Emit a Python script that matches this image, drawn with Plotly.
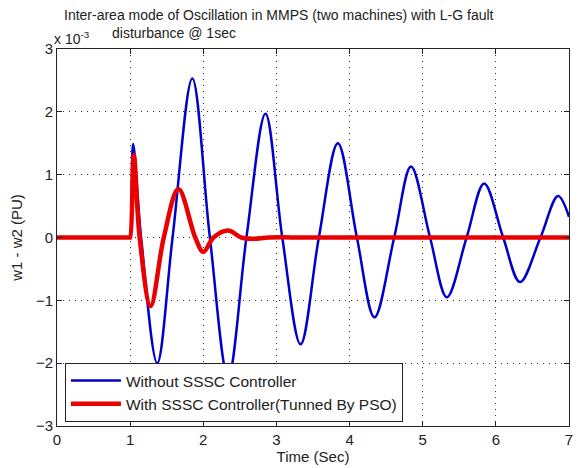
import plotly.graph_objects as go

# ---- data (values in units of 1e-3 PU) ----
t_without = [0, 0.99, 1.0, 1.04, 1.15, 1.37, 1.58, 1.85, 2.09, 2.34, 2.59, 2.85,
             3.08, 3.33, 3.58, 3.84, 4.10, 4.34, 4.61, 4.84, 5.10, 5.33, 5.60,
             5.84, 6.10, 6.33, 6.61, 6.85, 7.0]
v_without = [0, 0, 0, 1.49, 0, -2.0, 0, 2.53, 0, -2.22, 0, 1.97,
             0, -1.70, 0, 1.50, 0, -1.27, 0, 1.13, 0, -0.95, 0,
             0.86, 0, -0.71, 0, 0.66, 0.33]

t_with = [0, 0.99, 1.0, 1.05, 1.13, 1.28, 1.46, 1.66, 1.89, 2.0, 2.14, 2.34,
          2.52, 2.68, 2.9, 3.5, 7.0]
v_with = [0, 0, 0, 1.31, 0, -1.09, 0, 0.77, 0, -0.23, 0, 0.11,
          0, -0.02, 0, 0, 0]

x_ticks = [0, 1, 2, 3, 4, 5, 6, 7]
y_ticks = [-3, -2, -1, 0, 1, 2, 3]

title_line1 = "Inter-area mode of Oscillation in MMPS (two machines) with L-G fault"
title_line2 = "disturbance @ 1sec"
name_without = "Without SSSC Controller"
name_with = "With SSSC Controller(Tunned By PSO)"

FONT = "Liberation Sans, Arial, sans-serif"
FS_TITLE = 14
FS = 15
FS_LEG = 15.5
TXT = "#222222"

fig = go.Figure()
fig.add_trace(go.Scatter(
    x=t_without, y=v_without, mode="lines", name=name_without,
    line=dict(color="rgb(0,0,205)", width=2.5, shape="spline", smoothing=1.0),
))
fig.add_trace(go.Scatter(
    x=t_with, y=v_with, mode="lines", name=name_with,
    line=dict(color="rgb(235,0,0)", width=4.5, shape="spline", smoothing=1.0),
))

axis_common = dict(
    showline=True, linecolor="#222222", linewidth=1, mirror="ticks",
    ticks="inside", ticklen=5, tickcolor="#222222",
    showgrid=True, gridcolor="#333333", griddash="1px,5px", gridwidth=1,
    zeroline=False,
    tickfont=dict(family=FONT, size=FS, color=TXT),
)

fig.update_xaxes(range=[0, 7], tickvals=x_ticks, **axis_common,
                 title=dict(text="Time (Sec)", font=dict(family=FONT, size=FS, color=TXT),
                            standoff=2))
fig.update_yaxes(range=[-3, 3], tickvals=y_ticks, **axis_common,
                 title=dict(text="w1 - w2 (PU)", font=dict(family=FONT, size=FS, color=TXT),
                            standoff=9))

fig.add_annotation(text=title_line1, xref="paper", yref="paper",
                   x=(281 - 57) / 516, y=(426 - 15) / 377,
                   xanchor="center", yanchor="middle", showarrow=False,
                   font=dict(family=FONT, size=FS_TITLE, color=TXT))
fig.add_annotation(text=title_line2, xref="paper", yref="paper",
                   x=(110 - 57) / 516, y=(426 - 33) / 377,
                   xanchor="left", yanchor="middle", showarrow=False,
                   font=dict(family=FONT, size=FS_TITLE, color=TXT))
fig.add_annotation(text="x 10<sup>-3</sup>", xref="paper", yref="paper",
                   x=(52 - 57) / 516, y=(426 - 38) / 377,
                   xanchor="left", yanchor="middle", showarrow=False,
                   font=dict(family=FONT, size=FS_TITLE, color=TXT))

fig.update_layout(
    width=580, height=468,
    margin=dict(l=57, r=7, t=49, b=42),
    paper_bgcolor="white", plot_bgcolor="white",
    font=dict(family=FONT, size=FS, color=TXT),
    showlegend=True,
    legend=dict(
        x=(65 - 57) / 516, y=(426 - 422) / 377, xanchor="left", yanchor="bottom",
        bgcolor="white", bordercolor="#222222", borderwidth=1,
        font=dict(family=FONT, size=FS_LEG, color=TXT),
        itemwidth=50, tracegroupgap=0,
    ),
)

fig.write_html("out.html")
